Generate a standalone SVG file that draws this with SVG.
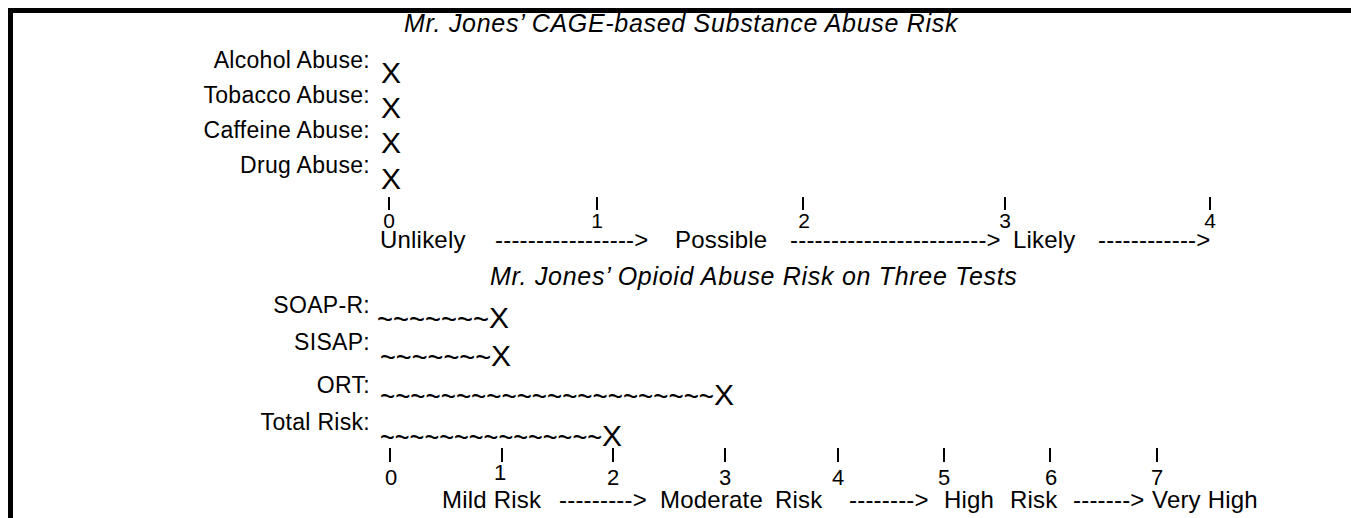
<svg xmlns="http://www.w3.org/2000/svg" width="1351" height="518" viewBox="0 0 1351 518">
<style>
text{font-family:"Liberation Sans",Arial,Helvetica,sans-serif;fill:#000}
.t{font-size:25px;font-style:italic;letter-spacing:0.7px}
.l{font-size:23px;text-anchor:end;letter-spacing:0.3px}
.b{font-size:24px;letter-spacing:0.2px}
.x{font-size:30px}
.w{font-size:31px}
.d1{font-size:21px;text-anchor:middle}
.d2{font-size:22px;text-anchor:middle}
.tick{stroke:#000;stroke-width:2}
</style>
<rect width="1351" height="518" fill="#fff"/>
<path d="M10.5 518V10.5H1351" fill="none" stroke="#000" stroke-width="5"/>
<g id="title1"><text class="t" x="404" y="32">Mr. Jones’ CAGE-based Substance Abuse Risk</text></g>
<g id="cage-rows">
<g id="alcohol"><text class="l" x="370" y="68">Alcohol Abuse:</text><text class="x" x="381" y="83">X</text></g>
<g id="tobacco"><text class="l" x="370" y="103">Tobacco Abuse:</text><text class="x" x="381" y="118">X</text></g>
<g id="caffeine"><text class="l" x="370" y="138">Caffeine Abuse:</text><text class="x" x="381" y="153">X</text></g>
<g id="drug"><text class="l" x="370" y="173">Drug Abuse:</text><text class="x" x="381" y="189">X</text></g>
</g>
<g id="axis1">
<g id="ticks1"><line class="tick" x1="389" y1="197" x2="389" y2="210"/><line class="tick" x1="597" y1="197" x2="597" y2="210"/><line class="tick" x1="803" y1="197" x2="803" y2="210"/><line class="tick" x1="1005" y1="197" x2="1005" y2="210"/><line class="tick" x1="1210" y1="197" x2="1210" y2="210"/></g>
<text class="d1" x="389" y="228">0</text><text class="d1" x="597" y="228">1</text><text class="d1" x="804" y="228">2</text><text class="d1" x="1005" y="228">3</text><text class="d1" x="1210" y="228">4</text>
<text class="b" y="248"><tspan x="380">Unlikely</tspan><tspan x="495">-----------------&gt;</tspan><tspan x="675">Possible</tspan><tspan x="790">------------------------&gt;</tspan><tspan x="1013">Likely</tspan><tspan x="1098">------------&gt;</tspan></text>
</g>
<g id="title2"><text class="t" x="490" y="285">Mr. Jones’ Opioid Abuse Risk on Three Tests</text></g>
<g id="opioid-rows">
<g id="soapr"><text class="l" x="370" y="313">SOAP-R:</text><text class="w" x="377" y="330" textLength="112" lengthAdjust="spacingAndGlyphs">~~~~~~~</text><text class="x" x="489" y="328">X</text></g>
<g id="sisap"><text class="l" x="370" y="350">SISAP:</text><text class="w" x="380" y="368" textLength="111" lengthAdjust="spacingAndGlyphs">~~~~~~~</text><text class="x" x="491" y="366">X</text></g>
<g id="ort"><text class="l" x="370" y="393">ORT:</text><text class="w" x="380" y="407" textLength="334" lengthAdjust="spacingAndGlyphs">~~~~~~~~~~~~~~~~~~~~~~</text><text class="x" x="714" y="405">X</text></g>
<g id="total"><text class="l" x="370" y="430">Total Risk:</text><text class="w" x="380" y="448" textLength="222" lengthAdjust="spacingAndGlyphs">~~~~~~~~~~~~~~~</text><text class="x" x="602" y="446">X</text></g>
</g>
<g id="axis2">
<g id="ticks2"><line class="tick" x1="390" y1="448" x2="390" y2="462"/><line class="tick" x1="502" y1="448" x2="502" y2="462"/><line class="tick" x1="613" y1="448" x2="613" y2="462"/><line class="tick" x1="725" y1="448" x2="725" y2="462"/><line class="tick" x1="838" y1="448" x2="838" y2="462"/><line class="tick" x1="944" y1="448" x2="944" y2="462"/><line class="tick" x1="1050" y1="448" x2="1050" y2="462"/><line class="tick" x1="1157" y1="448" x2="1157" y2="462"/></g>
<text class="d2" x="391" y="485">0</text><text class="d2" x="500" y="480">1</text><text class="d2" x="613" y="485">2</text><text class="d2" x="725" y="485">3</text><text class="d2" x="838" y="485">4</text><text class="d2" x="944" y="485">5</text><text class="d2" x="1051" y="485">6</text><text class="d2" x="1157" y="485">7</text>
<text class="b" y="508"><tspan x="442">Mild Risk</tspan><tspan x="559">---------&gt;</tspan><tspan x="660">Moderate</tspan><tspan x="775">Risk</tspan><tspan x="849">--------&gt;</tspan><tspan x="944">High</tspan><tspan x="1010">Risk</tspan><tspan x="1073">-------&gt;</tspan><tspan x="1152">Very High</tspan></text>
</g>
</svg>
